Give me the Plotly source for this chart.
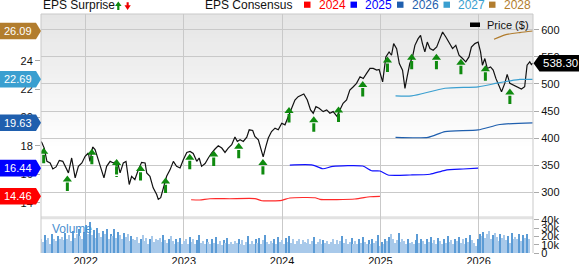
import plotly.graph_objects as go
import pandas as pd

# ---------------- data ----------------
price_dates = [
    '2021-07-19','2021-07-22','2021-07-31','2021-08-10','2021-08-22','2021-09-01','2021-09-13','2021-09-25',
    '2021-10-08','2021-10-16','2021-10-29','2021-11-10','2021-11-23','2021-12-05','2021-12-18','2021-12-30',
    '2022-01-11','2022-01-17','2022-01-27','2022-02-05','2022-02-17','2022-03-02','2022-03-10','2022-03-20',
    '2022-04-02','2022-04-14','2022-04-29','2022-05-09','2022-05-21','2022-05-31','2022-06-12','2022-06-21',
    '2022-07-03','2022-07-16','2022-07-28','2022-08-10','2022-08-16','2022-08-28','2022-09-09','2022-09-22',
    '2022-09-28','2022-10-07','2022-10-17','2022-10-29','2022-11-11','2022-11-23','2022-12-05','2022-12-18',
    '2022-12-30',
    '2023-01-12','2023-01-24','2023-02-05','2023-02-18','2023-02-27','2023-03-08','2023-03-21','2023-04-02',
    '2023-04-14','2023-04-27','2023-05-09','2023-05-22','2023-06-03','2023-06-15','2023-06-28','2023-07-10',
    '2023-07-19','2023-07-29','2023-08-10','2023-08-23','2023-09-01','2023-09-14','2023-09-22','2023-10-05',
    '2023-10-14','2023-10-23','2023-11-02','2023-11-11','2023-11-23','2023-12-06','2023-12-18','2023-12-31',
    '2024-01-12','2024-01-24','2024-02-06','2024-02-18','2024-03-01','2024-03-22','2024-04-04','2024-04-16',
    '2024-04-26','2024-05-06','2024-05-18','2024-06-02','2024-06-15','2024-06-27','2024-07-09','2024-07-24',
    '2024-08-03','2024-08-15','2024-08-28','2024-09-09','2024-09-22','2024-10-04','2024-10-17','2024-10-29',
    '2024-11-11','2024-11-23','2024-12-05','2024-12-18','2024-12-27',
    '2025-01-09','2025-01-21','2025-02-02','2025-02-11','2025-02-19','2025-03-02','2025-03-12','2025-03-24',
    '2025-04-02','2025-04-10','2025-04-20','2025-04-30','2025-05-09','2025-05-21','2025-05-30','2025-06-06',
    '2025-06-15','2025-06-24','2025-07-04','2025-07-16','2025-07-29','2025-08-10','2025-08-20','2025-09-01',
    '2025-09-13','2025-09-26','2025-10-08','2025-10-20','2025-11-02','2025-11-14','2025-11-26','2025-12-05',
    '2025-12-18','2025-12-30',
    '2026-01-08','2026-01-15','2026-01-24','2026-02-02','2026-02-14','2026-02-24','2026-03-06','2026-03-14',
    '2026-03-27','2026-04-08','2026-04-17','2026-04-27','2026-05-09','2026-05-24','2026-06-09','2026-06-21',
    '2026-06-30','2026-07-10','2026-07-16','2026-07-21']
price_values = [
    394, 392.3, 382, 357.5, 354.6, 343.6, 347.3, 359.3, 357.5, 348.3, 336.3, 363.7, 327.1, 348.3, 354.6, 366.7,
    372.9, 357.5, 383.9, 379, 360.6, 339.2, 327.1, 348.3, 357.5, 354.6, 357.5, 336.3, 354.6, 357.5, 314.9, 330,
    324, 342.3, 355.7, 354.6, 336.3, 330, 308.8, 296.5, 287.4, 290.5, 308.8, 330, 342.3, 357.5, 348.3, 345.4,
    360.6,
    374, 375.8, 372, 357.5, 363.7, 348.3, 353.4, 363.7, 372.9, 380.2, 386.3, 382, 374, 382, 388.1, 402.2,
    394.1, 397.3, 394.1, 402.2, 415.6, 414.3, 403.3, 397.3, 382, 365.6, 385, 400.4, 412.5, 418.7, 415.6, 427.8,
    424.8, 440, 458.2, 470.5, 476.6, 481.5, 470.5, 452.2, 446.1, 458.2, 455.3, 449.1, 452.2, 446.1, 449.1, 440,
    452.2, 464.5, 470.5, 488.8, 494.9, 501.1, 513.2, 510, 520, 528.6, 528.6, 525.5, 526.7,
    504, 549.8, 559, 552.9, 574.4, 565.2, 537.7, 525.5, 492, 513.2, 537.7, 549.8, 571.2, 583.5, 589.6, 574.4,
    559, 577.3, 565.2, 562.1, 568.1, 583.5, 595.6, 586.5, 577.3, 565.2, 571.2, 552.9, 546.9, 540.7, 549.8, 568.1,
    574.4, 577.3,
    559, 534.6, 546.9, 528.6, 531.5, 525.5, 510.3, 501.1, 485.8, 501.1, 517.6, 501.1, 498, 494.9, 490.7, 494.9,
    534.6, 540.7, 535.9, 538.3]
last_price = 538.30

eps_2024_dates = ['2023-01-28','2023-03-01','2023-04-08','2023-06-21','2023-09-22','2023-10-18','2023-12-31',
                  '2024-01-30','2024-05-03','2024-05-21','2024-09-28','2024-11-23','2024-12-30']
eps_2024_values = [14.22, 14.20, 14.29, 14.29, 14.30, 14.15, 14.18, 14.34, 14.36, 14.25, 14.27, 14.43, 14.46]

eps_2025_dates = ['2024-01-30','2024-04-24','2024-06-01','2024-07-08','2024-10-27','2024-11-29','2024-12-30',
                  '2025-01-29','2025-04-21','2025-07-04','2025-08-29','2025-11-04','2025-12-30']
eps_2025_values = [16.66, 16.66, 16.40, 16.57, 16.59, 16.26, 16.24, 15.96, 15.96, 16.01, 16.29, 16.38, 16.44]

eps_2026_dates = ['2025-02-26','2025-06-27','2025-08-29','2025-12-30','2026-03-21','2026-07-21']
eps_2026_values = [18.61, 18.61, 19.01, 19.13, 19.51, 19.63]

eps_2027_dates = ['2025-02-26','2025-04-27','2025-08-29','2025-12-30','2026-03-10','2026-04-27','2026-06-03','2026-07-21']
eps_2027_values = [21.52, 21.52, 22.06, 22.16, 22.42, 22.58, 22.68, 22.69]

eps_2028_dates = ['2026-02-27','2026-04-09','2026-06-03','2026-07-21']
eps_2028_values = [25.51, 25.82, 25.98, 26.09]

consensus_years = ['2024', '2025', '2026', '2027', '2028']
consensus_last = [14.46, 16.44, 19.63, 22.69, 26.09]

surprise_dates = ['2021-07-29','2021-10-25','2022-01-24','2022-04-26','2022-07-24','2022-10-25','2023-01-23',
                  '2023-04-22','2023-07-24','2023-10-22','2024-01-27','2024-04-28','2024-07-29','2024-10-27',
                  '2025-01-27','2025-04-27','2025-07-28','2025-10-27','2026-01-26','2026-04-27']
surprise_prices = [383, 332, 381, 362, 351, 328, 372, 378, 392, 362, 458, 441, 459, 506,
                   551, 556, 556, 547, 535, 492]

volume_k = [
    18, 14, 22, 16, 19, 12, 24, 17, 15, 21, 18,
    20, 16, 25, 18, 22, 15, 27, 19, 23, 30, 21, 17, 26,
    34, 24, 38, 22, 28, 19, 31, 25, 20, 27, 23, 29, 18,
    24, 21, 30, 19, 26, 22, 17, 25, 20, 23, 15, 21, 18,
    16, 20, 13, 18, 22, 15, 19, 12, 17, 21, 14, 18, 16,
    19, 14, 22, 16, 13, 18, 21, 15, 12, 17, 14, 19, 11,
    15, 18, 12, 20, 14, 17, 11, 16, 22, 13, 15, 12, 18,
    14, 11, 17, 13, 20, 12, 15, 10, 16, 13, 19, 12, 14,
    11, 15, 13, 18, 12, 16, 10, 14, 21, 12, 15, 11, 17,
    13, 19, 12, 16, 22, 14, 11, 15, 13, 18, 12, 20, 14,
    16, 12, 19, 14, 21, 13, 17, 11, 15, 18, 12, 16, 14,
    13, 17, 11, 15, 20, 12, 14, 18, 11, 16, 13, 15, 12,
    14, 18, 12, 16, 11, 15, 21, 13, 17, 12, 14, 19, 11,
    15, 12, 17, 13, 20, 14, 11, 16, 12, 18, 13, 15, 22,
    9, 14, 12, 18, 15, 20, 23, 17, 13, 16, 25, 14, 18,
    15, 12, 17, 13, 14, 11, 16, 24, 13, 18, 15, 12, 17,
    14, 20, 13, 16, 12, 19, 15, 11, 17, 13, 21, 14, 16,
    12, 18, 15, 20, 13, 17, 11, 19, 14, 22, 16, 13, 9,
    18, 24, 21, 26, 19, 23, 27, 17, 22, 25, 20, 15, 24,
    19, 22, 16, 21, 13, 25, 18, 20, 17, 23, 15, 22, 19,
    24, 18]
volume_dates = pd.date_range('2021-07-19', periods=len(volume_k), freq='7D')

year_ticks = ['2022-01-01', '2023-01-01', '2024-01-01', '2025-01-01', '2026-01-01']
year_labels = ['2022', '2023', '2024', '2025', '2026']
price_ticks = [300, 350, 400, 450, 500, 550, 600]
eps_ticks = [14, 16, 18, 20, 22, 24, 26]
vol_ticks = [0, 10000, 20000, 30000, 40000]
vol_labels = ['0', '10k', '20k', '30k', '40k']

# ---------------- geometry / style ----------------
W, H = 579, 264
L, R, T, B = 41, 46, 14, 11
PW, PH = W - L - R, H - T - B
def px(x): return (x - L) / PW
def py(y): return (H - B - y) / PH

SPLIT = py(217.5)
PRICE_RANGE = [254.1, 628.9]
EPS_RANGE = [12.97, 27.285]
VOL_RANGE = [0, 42600]
X_RANGE = ['2021-07-19', '2026-07-22']
PX_PRICE = (PRICE_RANGE[1] - PRICE_RANGE[0]) / (217.5 - 14)

def price_paper(v):
    return SPLIT + (v - PRICE_RANGE[0]) / (PRICE_RANGE[1] - PRICE_RANGE[0]) * (1 - SPLIT)
def eps_paper(v):
    return SPLIT + (v - EPS_RANGE[0]) / (EPS_RANGE[1] - EPS_RANGE[0]) * (1 - SPLIT)

FONT = 'Liberation Sans, Arial, sans-serif'
colors = {'2024': '#ff2a2a', '2025': '#1010ff', '2026': '#1f5fae', '2027': '#3a9fd0', '2028': '#b07b2c'}
label_bg = {'2024': '#ff0000', '2025': '#0000ff', '2026': '#1f5fae', '2027': '#3a9fd0', '2028': '#b27d2e'}
GREEN = '#0f8a0f'
GRID = '#c9c9c9'

fig = go.Figure()

# volume
vol_colors = []
prev = None
for v in volume_k:
    vol_colors.append('#5b9bd5' if (prev is not None and v >= prev + 5) else '#a8c9ea')
    prev = v
fig.add_trace(go.Bar(x=volume_dates, y=[v * 1000 for v in volume_k], yaxis='y3',
                     marker=dict(color=vol_colors, line_width=0), width=4.5 * 86400000))

# consensus lines
for yr, d, v in [('2024', eps_2024_dates, eps_2024_values), ('2025', eps_2025_dates, eps_2025_values),
                 ('2026', eps_2026_dates, eps_2026_values), ('2027', eps_2027_dates, eps_2027_values),
                 ('2028', eps_2028_dates, eps_2028_values)]:
    fig.add_trace(go.Scatter(x=d, y=v, yaxis='y2', mode='lines',
                             line=dict(color=colors[yr], width=1.2, shape='spline', smoothing=0.6)))

# price line
fig.add_trace(go.Scatter(x=price_dates, y=price_values, yaxis='y', mode='lines',
                         line=dict(color='#111111', width=1.2)))

# surprise arrows
fig.add_trace(go.Scatter(x=surprise_dates, y=[p - 11.5 * PX_PRICE for p in surprise_prices], yaxis='y',
                         mode='markers', marker=dict(symbol='line-ns', size=6, line=dict(color=GREEN, width=3))))
fig.add_trace(go.Scatter(x=[surprise_dates[3], surprise_dates[3]],
                         y=[surprise_prices[3] - 5 * PX_PRICE, surprise_prices[3] - 18 * PX_PRICE], yaxis='y',
                         mode='lines', line=dict(color=GREEN, width=2.5, dash='2px,2px')))
fig.add_trace(go.Scatter(x=surprise_dates, y=[p - 4.2 * PX_PRICE for p in surprise_prices], yaxis='y',
                         mode='markers', marker=dict(symbol='triangle-up', size=8, color=GREEN, line_width=0)))

shapes = []
# gradient background in price panel
N = 34
for i in range(N):
    y0 = 14 + i * 4
    c = int(round(229 + (255 - 229) * i / (N - 1)))
    shapes.append(dict(type='rect', xref='paper', yref='paper', x0=0, x1=1, y0=py(y0 + 4), y1=py(y0),
                       fillcolor=f'rgb({c},{c},{c})', line_width=0, layer='below'))
# separator between panels
shapes.append(dict(type='line', xref='paper', yref='paper', x0=0, x1=1, y0=py(217.8), y1=py(217.8),
                   line=dict(color='#e2e2e2', width=3), layer='below'))
# frame
for (x0, y0, x1, y1) in [(0, 0, 0, 1), (1, 0, 1, 1), (0, 1, 1, 1)]:
    shapes.append(dict(type='line', xref='paper', yref='paper', x0=x0, y0=y0, x1=x1, y1=y1,
                       line=dict(color=GRID, width=1)))

annotations = []
# left consensus labels
hh = 8.3 / PH
for yr, val in zip(consensus_years, consensus_last):
    yc = eps_paper(val)
    path = (f'M {px(0)} {yc + hh} L {px(36)} {yc + hh} L {px(41)} {yc} '
            f'L {px(36)} {yc - hh} L {px(0)} {yc - hh} Z')
    shapes.append(dict(type='path', xref='paper', yref='paper', path=path,
                       fillcolor=label_bg[yr], line_width=0))
    annotations.append(dict(xref='paper', yref='y2', x=px(18), y=val, text=f'{val:.2f}', showarrow=False,
                            xanchor='center', yanchor='middle', font=dict(color='white', size=11, family=FONT)))
# right price label
yc = price_paper(last_price)
path = (f'M {px(533.5)} {yc} L {px(539.5)} {yc + hh} L {px(579)} {yc + hh} '
        f'L {px(579)} {yc - hh} L {px(539.5)} {yc - hh} Z')
shapes.append(dict(type='path', xref='paper', yref='paper', path=path, fillcolor='#000000', line_width=0))
annotations.append(dict(xref='paper', yref='y', x=px(560), y=last_price, text=f'{last_price:.2f}',
                        showarrow=False, xanchor='center', yanchor='middle',
                        font=dict(color='white', size=11.5, family=FONT)))

# top legend
annotations.append(dict(xref='paper', yref='paper', x=px(41), y=py(5), text='EPS Surprise', showarrow=False,
                        xanchor='left', yanchor='middle', font=dict(color='#111', size=12, family=FONT)))
up = (f'M {px(115)} {py(6)} L {px(118.3)} {py(1.6)} L {px(121.6)} {py(6)} L {px(119.4)} {py(6)} '
      f'L {px(119.4)} {py(10)} L {px(117.2)} {py(10)} L {px(117.2)} {py(6)} Z')
shapes.append(dict(type='path', xref='paper', yref='paper', path=up, fillcolor=GREEN, line_width=0))
dn = (f'M {px(124.5)} {py(5.3)} L {px(127.6)} {py(10)} L {px(130.8)} {py(5.3)} L {px(128.7)} {py(5.3)} '
      f'L {px(128.7)} {py(2.2)} L {px(126.6)} {py(2.2)} L {px(126.6)} {py(5.3)} Z')
shapes.append(dict(type='path', xref='paper', yref='paper', path=dn, fillcolor='#ee0000', line_width=0))
annotations.append(dict(xref='paper', yref='paper', x=px(203), y=py(5), text='EPS Consensus', showarrow=False,
                        xanchor='left', yanchor='middle', font=dict(color='#111', size=12, family=FONT)))
for yr, sx in zip(consensus_years, [304, 350.5, 397, 443.5, 489]):
    shapes.append(dict(type='rect', xref='paper', yref='paper', x0=px(sx), x1=px(sx + 6.5), y0=py(7.8),
                       y1=py(1.6), fillcolor=label_bg[yr], line_width=0))
    annotations.append(dict(xref='paper', yref='paper', x=px(sx + 12.5), y=py(5), text=yr, showarrow=False,
                            xanchor='left', yanchor='middle', font=dict(color=label_bg[yr], size=12, family=FONT)))
# price legend
shapes.append(dict(type='rect', xref='paper', yref='paper', x0=px(470), x1=px(480), y0=py(27), y1=py(22.5),
                   fillcolor='#000', line_width=0))
annotations.append(dict(xref='paper', yref='paper', x=px(485), y=py(25.3), text='Price ($)', showarrow=False,
                        xanchor='left', yanchor='middle', font=dict(color='#111', size=11, family=FONT)))
# volume label
annotations.append(dict(xref='paper', yref='paper', x=px(50), y=py(229.5), text='Volume', showarrow=False,
                        xanchor='left', yanchor='middle', font=dict(color='#4a8fd0', size=12, family=FONT)))

fig.update_layout(
    width=W, height=H,
    margin=dict(l=L, r=R, t=T, b=B, pad=0, autoexpand=False),
    paper_bgcolor='white', plot_bgcolor='white',
    showlegend=False,
    font=dict(family=FONT, size=11, color='#111'),
    bargap=0,
    xaxis=dict(type='date', range=X_RANGE, anchor='y3', tickvals=year_ticks, ticktext=year_labels,
               showgrid=True, gridcolor=GRID, gridwidth=1, ticks='', showline=False, zeroline=False,
               tickfont=dict(size=11, color='#111')),
    yaxis=dict(domain=[SPLIT, 1], range=PRICE_RANGE, side='right', anchor='x', tickvals=price_ticks,
               showgrid=True, gridcolor=GRID, gridwidth=1, ticks='outside', ticklen=5, tickcolor='#aaaaaa',
               showline=False, zeroline=False, tickfont=dict(size=11, color='#111')),
    yaxis2=dict(overlaying='y', range=EPS_RANGE, side='left', anchor='x', tickvals=eps_ticks,
                showgrid=False, ticks='outside', ticklen=5, tickcolor='#aaaaaa', showline=False,
                zeroline=False, tickfont=dict(size=11, color='#111')),
    yaxis3=dict(domain=[0, SPLIT], range=VOL_RANGE, side='right', anchor='x', tickvals=vol_ticks,
                ticktext=vol_labels, showgrid=False, ticks='outside', ticklen=5, tickcolor='#aaaaaa',
                showline=False, zeroline=False, tickfont=dict(size=11, color='#111')),
    shapes=shapes, annotations=annotations,
)

fig.write_html('out.html')
